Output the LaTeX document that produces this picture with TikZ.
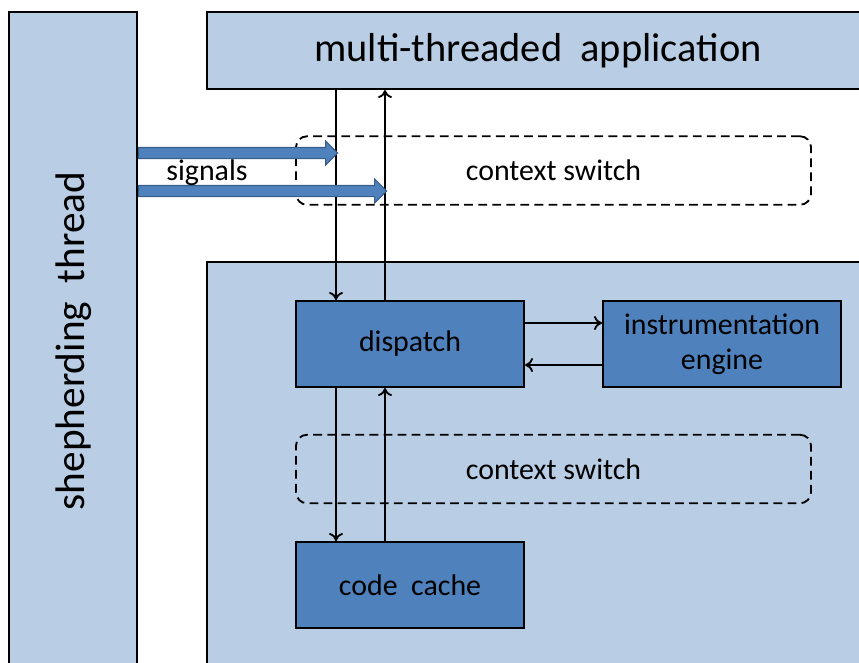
\documentclass[tikz,border=0pt]{standalone}
\usepackage{fontspec}
\setmainfont{Carlito}
\usetikzlibrary{shapes.arrows,arrows.meta}
\definecolor{PaneBlue}{HTML}{B9CDE5}
\definecolor{BlockBlue}{HTML}{4F81BD}
\definecolor{EdgeBlue}{HTML}{385D8A}

\begin{document}
\begin{tikzpicture}[
    pane/.style={draw, line width=1.2pt, fill=PaneBlue, inner sep=0pt, font=\fontsize{23}{27}\selectfont},
    box/.style={draw, line width=1.2pt, fill=BlockBlue, align=center, inner sep=0pt, minimum height=1.72cm, font=\fontsize{17}{20}\selectfont},
    ctxswitch/.style={draw, dash pattern=on 5pt off 3pt, line width=1.05pt, rounded corners=0.22cm, minimum width=10.3cm, minimum height=1.37cm, font=\fontsize{17}{20}\selectfont},
    arrow/.style={-{To[length=4.5pt,width=8pt]}, line width=1.05pt},
    signal/.style={single arrow, draw=EdgeBlue, fill=BlockBlue, line width=0.6pt, inner xsep=0pt, inner ysep=0.1cm, single arrow head extend=0.13cm, anchor=tail}
  ]
    \useasboundingbox (0,0) rectangle (17.18,-13.24);

    % background panes
    \node[pane, minimum width=2.56cm, minimum height=13.2cm] (shepherd) at (1.46,-6.84) {};
    \node[rotate=90, font=\fontsize{23.5}{27}\selectfont] (shepherdtxt) at (1.48,-6.82) {shepherding\ \ thread};
    \node[pane, minimum width=13.24cm, minimum height=1.54cm] (app) at (10.76,-1.01) {multi-threaded\ \ application};
    \node[pane, minimum width=13.24cm, minimum height=8.2cm] (runtime) at (10.76,-9.34) {};

    % context switch regions
    \node[ctxswitch] (switchA) at (11.07,-3.41) {context switch};
    \node[ctxswitch] (switchB) at (11.07,-9.38) {context switch};

    % blocks
    \node[box, minimum width=4.56cm] (dispatch) at (8.2,-6.88) {dispatch};
    \node[box, minimum width=4.76cm] (engine) at (14.44,-6.88) {instrumentation\\engine};
    \node[box, minimum width=4.56cm] (cache) at (8.2,-11.70) {code\ \ cache};

    \coordinate (downx) at (6.72,0);
    \coordinate (upx) at (7.70,0);

    \draw[arrow] (app.south -| downx) -- (dispatch.north -| downx);
    \draw[arrow] (dispatch.north -| upx) -- (app.south -| upx);
    \draw[arrow] (dispatch.south -| downx) -- (cache.north -| downx);
    \draw[arrow] (cache.north -| upx) -- (dispatch.south -| upx);
    \draw[arrow] ([yshift=0.42cm]dispatch.east) -- ([yshift=0.42cm]engine.west);
    \draw[arrow] ([yshift=-0.42cm]engine.west) -- ([yshift=-0.42cm]dispatch.east);

    % signals into the application
    \node[signal, minimum height=3.98cm] (sigA) at (shepherd.east |- 0,-3.06) {};
    \node[signal, minimum height=4.96cm] (sigB) at (shepherd.east |- 0,-3.82) {};
    \node[font=\fontsize{17}{20}\selectfont] (siglabel) at (4.14,-3.46) {signals};
  \end{tikzpicture}
\end{document}
